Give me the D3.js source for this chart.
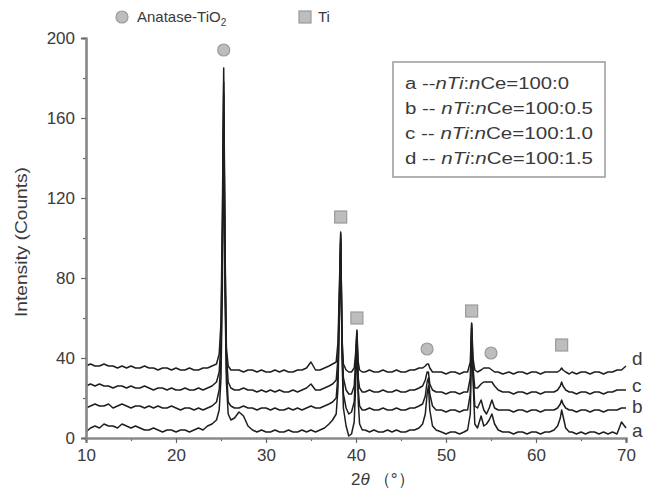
<!DOCTYPE html>
<html>
<head>
<meta charset="utf-8">
<script src="https://cdn.jsdelivr.net/npm/d3@7"></script>
<style>
  body { margin: 0; background: #fff; }
  text { font-family: Arial, "Liberation Sans", sans-serif; fill: #3a3a3a; }
</style>
</head>
<body>
<svg id="chart"></svg>
<script>
// shared 2-theta grid (degrees)
const twoTheta = [10,10.5,11,11.5,12,12.5,13,13.5,14,14.5,15,15.5,16,16.5,17,17.5,18,18.5,19,19.5,20,20.5,21,21.5,22,22.5,23,23.5,24,
  24.5,24.8,25.0,25.15,25.3,25.45,25.6,25.8,26.1,26.5,
  27,27.5,28,28.5,29,29.5,30,30.5,31,31.5,32,32.5,33,33.5,34,34.5,35,35.5,36,36.5,37,
  37.4,37.8,38.0,38.15,38.3,38.45,38.6,38.9,39.2,39.5,39.8,39.95,40.1,40.25,40.4,40.7,
  41,41.5,42,42.5,43,43.5,44,44.5,45,45.5,46,46.5,47,
  47.4,47.7,47.9,48.05,48.2,48.5,48.9,
  49.5,50,50.5,51,51.5,52,52.4,52.7,52.85,53.0,53.2,53.5,53.9,54.2,54.5,54.8,55.1,55.4,55.8,56.3,
  57,57.5,58,58.5,59,59.5,60,60.5,61,61.5,62,
  62.4,62.7,62.85,63.0,63.3,63.7,
  64,64.5,65,65.5,66,66.5,67,67.5,68,68.5,69,69.5,70];

// intensities (curves already stacked as drawn)
const seriesA = [3,5,6,5,7,6,6,5,7,6,5,6,5,4,4,5,4,3,4,4,3,4,4,3,4,5,4,6,7,
  9,14,30,75,160,70,28,12,9,10,
  13,11,6,4,3,4,3,3,4,3,3,4,3,3,4,3,4,3,4,5,7,
  9,12,25,60,98,40,15,6,1,2,8,25,50,18,7,4,
  4,3,4,3,3,4,3,4,3,3,4,4,5,
  7,12,22,26,14,6,4,
  3,2,3,3,2,3,4,12,50,30,7,5,11,6,7,9,12,7,4,3,
  3,2,3,3,2,3,3,2,3,3,4,
  6,10,14,11,5,3,
  3,2,3,2,3,3,2,3,2,3,2,8,5];
const seriesB = [15,16,17,16,16,17,15,16,17,16,15,16,16,15,16,15,16,15,15,16,15,14,15,15,14,15,14,15,16,
  18,24,40,90,172,80,35,18,16,15,
  15,16,15,15,14,15,15,14,15,14,14,15,14,15,14,15,16,15,15,16,17,
  18,20,32,65,100,45,22,15,12,13,18,32,52,24,16,14,
  14,15,14,14,15,14,14,15,14,14,15,15,16,
  17,21,28,30,22,16,14,
  14,13,14,14,13,14,14,22,55,32,16,15,19,14,12,15,19,15,14,14,
  14,13,14,14,13,14,14,13,14,14,14,
  15,17,19,17,15,14,
  14,13,14,14,13,14,14,13,14,14,14,15,15];
const seriesC = [26,27,26,27,26,26,25,26,26,25,26,25,25,26,25,24,25,25,24,25,24,24,25,24,24,25,24,25,26,
  28,33,48,100,178,90,42,28,25,24,
  24,25,24,24,23,24,23,24,23,24,23,23,24,23,24,25,27,24,24,25,26,
  27,29,40,70,102,48,30,24,22,22,26,38,53,30,25,23,
  23,24,23,23,24,23,23,24,23,23,24,24,25,
  26,29,33,33,27,24,23,
  23,22,23,23,22,23,23,30,57,35,25,25,27,28,28,28,28,26,24,23,
  23,22,23,23,22,23,23,22,23,23,23,
  24,26,28,26,24,23,
  23,22,23,23,22,23,23,22,23,23,24,24,24];
const seriesD = [36,37,36,36,37,36,36,35,36,35,36,35,35,36,35,35,34,35,35,34,35,34,34,35,34,34,35,35,36,
  37,42,58,110,185,95,45,36,34,34,
  34,33,34,34,33,34,33,33,34,33,34,33,33,34,34,35,38,34,34,35,36,
  37,38,48,75,103,50,37,34,33,33,35,42,54,38,34,33,
  33,34,33,33,34,33,33,34,33,33,34,34,35,
  35,36,37,37,35,33,33,
  33,32,33,33,32,33,33,38,57.5,40,34,33,34,35,35,35,34,33,33,32,
  33,32,33,33,32,33,33,32,33,33,33,
  33,34,35,34,33,32,
  33,32,33,33,32,33,33,32,33,33,34,34,36];

const seriesNames = ["a", "b", "c", "d"];
const legendRatios = ["100:0", "100:0.5", "100:1.0", "100:1.5"];

// phase markers above peaks
const markerX = [25.3, 38.3, 40.1, 47.9, 52.85, 55.0, 62.85];
const markerY = [194, 110.5, 60, 44.5, 63.5, 42.5, 46.5];
const markerPhase = ["anatase", "ti", "ti", "anatase", "ti", "anatase", "ti"];

const xMajor = [10, 20, 30, 40, 50, 60, 70];
const xMinor = [15, 25, 35, 45, 55, 65];
const yMajor = [0, 40, 80, 120, 160, 200];
const yMinor = [20, 60, 100, 140, 180];

const width = 647, height = 492;
const margin = { top: 38, right: 21, bottom: 54, left: 86 };

const svg = d3.select("#chart").attr("width", width).attr("height", height);

const x = d3.scaleLinear().domain([10, 70]).range([margin.left, width - margin.right]);
const y = d3.scaleLinear().domain([0, 200]).range([height - margin.bottom, margin.top]);

// traces
const line = d3.line().x((d, i) => x(twoTheta[i])).y(d => y(d));
const allSeries = [seriesA, seriesB, seriesC, seriesD];
svg.append("g").selectAll("path")
  .data(allSeries)
  .join("path")
  .attr("d", line)
  .attr("fill", "none")
  .attr("stroke", "#1e1e1e")
  .attr("stroke-width", 1.5)
  .attr("stroke-linejoin", "round");

// axes
const axisColor = "#8a8a8a";
function styleAxis(g) {
  g.select(".domain").attr("stroke", axisColor).attr("stroke-width", 2.2);
  g.selectAll(".tick line").attr("stroke", "#666").attr("stroke-width", 1.2);
  g.selectAll(".tick text").style("font-size", "17px").attr("fill", "#555");
}

svg.append("g")
  .attr("transform", `translate(0,${y(0)})`)
  .call(d3.axisBottom(x).tickValues(xMinor).tickSize(3).tickFormat(""))
  .call(styleAxis);
svg.append("g")
  .attr("transform", `translate(0,${y(0)})`)
  .call(d3.axisBottom(x).tickValues(xMajor).tickSize(5).tickPadding(6).tickFormat(d3.format("d")))
  .call(styleAxis);

svg.append("g")
  .attr("transform", `translate(${x(10)},0)`)
  .call(d3.axisLeft(y).tickValues(yMinor).tickSize(3).tickFormat(""))
  .call(styleAxis);
svg.append("g")
  .attr("transform", `translate(${x(10)},0)`)
  .call(d3.axisLeft(y).tickValues(yMajor).tickSize(5).tickPadding(6).tickFormat(d3.format("d")))
  .call(styleAxis);

// axis titles
svg.append("text")
  .attr("transform", `translate(27,${y(98)}) rotate(-90)`)
  .attr("text-anchor", "middle")
  .attr("textLength", 150)
  .attr("lengthAdjust", "spacingAndGlyphs")
  .style("font-size", "16px")
  .text("Intensity (Counts)");

const xTitle = svg.append("text")
  .attr("x", 351).attr("y", 485)
  .style("font-size", "17px");
xTitle.append("tspan").text("2");
xTitle.append("tspan").style("font-style", "italic").text("θ");
xTitle.append("tspan").attr("dx", 4).text("（°）");

// markers
const markerFill = "#bdbdbd", markerStroke = "#9a9a9a";
const markers = svg.append("g");
markerX.forEach((mx, i) => {
  if (markerPhase[i] === "anatase") {
    markers.append("circle")
      .attr("cx", x(mx)).attr("cy", y(markerY[i])).attr("r", 6)
      .attr("fill", markerFill).attr("stroke", markerStroke).attr("stroke-width", 1.2);
  } else {
    markers.append("rect")
      .attr("x", x(mx) - 6).attr("y", y(markerY[i]) - 6).attr("width", 12).attr("height", 12)
      .attr("fill", markerFill).attr("stroke", markerStroke).attr("stroke-width", 1.2);
  }
});

// phase key along the top
svg.append("circle").attr("cx", 122).attr("cy", 17).attr("r", 6)
  .attr("fill", markerFill).attr("stroke", markerStroke).attr("stroke-width", 1.2);
const anaText = svg.append("text").attr("x", 137).attr("y", 22).style("font-size", "15px");
anaText.append("tspan").text("Anatase-TiO");
anaText.append("tspan").attr("dy", 4).style("font-size", "10px").text("2");
svg.append("rect").attr("x", 299).attr("y", 11).attr("width", 12).attr("height", 12)
  .attr("fill", markerFill).attr("stroke", markerStroke).attr("stroke-width", 1.2);
svg.append("text").attr("x", 318).attr("y", 22).style("font-size", "15px").text("Ti");

// curve letters at right end
const letterAt = { a: 4, b: 16, c: 26.5, d: 40 };
svg.append("g").selectAll("text")
  .data(seriesNames)
  .join("text")
  .attr("x", x(70) + 6)
  .attr("y", d => y(letterAt[d]))
  .attr("dy", "0.36em")
  .style("font-size", "19px")
  .attr("fill", "#333")
  .text(d => d);

// composition legend box
svg.append("rect")
  .attr("x", 393).attr("y", 62).attr("width", 212).attr("height", 115)
  .attr("fill", "#fff").attr("stroke", "#a0a0a0").attr("stroke-width", 1.6);
const legendLines = svg.append("g");
seriesNames.forEach((name, i) => {
  const t = legendLines.append("text")
    .attr("x", 405).attr("y", 89 + i * 25)
    .style("font-size", "16px")
    .attr("textLength", i === 0 ? 164 : 188)
    .attr("lengthAdjust", "spacingAndGlyphs");
  t.append("tspan").text(i === 0 ? name + " --" : name + " -- ");
  t.append("tspan").style("font-style", "italic").text("nTi");
  t.append("tspan").text(":");
  t.append("tspan").style("font-style", "italic").text("n");
  t.append("tspan").text("Ce=" + legendRatios[i]);
});
</script>
</body>
</html>
